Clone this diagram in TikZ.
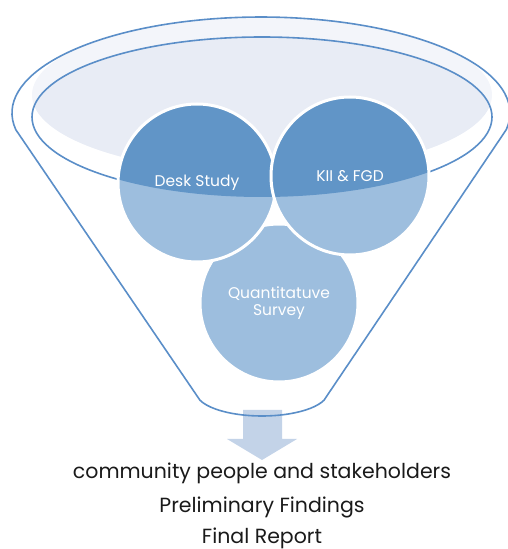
\documentclass[tikz,border=0pt]{standalone}
\usepackage{fontspec}
\setmainfont{Poppins}

\definecolor{rimline}{HTML}{5A8EC8}
\definecolor{bandfill}{HTML}{F3F5FA}
\definecolor{discfill}{HTML}{E8ECF5}
\definecolor{deepblue}{HTML}{6195C7}
\definecolor{paleblue}{HTML}{9DBEDE}
\definecolor{arrowfill}{HTML}{C3D3E8}
\definecolor{inktext}{HTML}{1A1A1A}

\tikzset{
	funnel/.style={draw=rimline, line width=1.6pt},
	bubble/.style={circle, fill=paleblue, draw=white, line width=3pt,
		minimum size=158pt, inner sep=0pt, text=white, align=center,
		font=\fontsize{15.5}{17}\selectfont,
		path picture={\fill[deepblue] (rim) ellipse [x radius=230, y radius=80];}},
	caption/.style={text=inktext, font=\fontsize{20.5}{24}\selectfont}
}

\begin{document}
\begin{tikzpicture}[x=1pt, y=1pt]
			%%%%% START %%%%%
			\useasboundingbox (0,0) rectangle (507,549);
			
			% rim of the funnel, light band and disc
			\coordinate (rim) at (262,432);
			\fill[bandfill] (262,454) ellipse [x radius=230, y radius=78];
			\begin{scope}
				\clip (rim) ellipse [x radius=230, y radius=80];
				\fill[discfill] (262,454) ellipse [x radius=230, y radius=78];
			\end{scope}
			
			% arrow under the spout
			\fill[arrowfill] (243,139) -- (282,139) -- (282,110) -- (297,110) -- (262,89) -- (227,110) -- (243,110) -- cycle;
			
			% funnel outline
			\draw[funnel] (rim) ellipse [x radius=230, y radius=80];
			\draw[funnel] (15.8,419.3) arc [start angle=190, end angle=-10, x radius=249, y radius=96]
				-- (324,148.8) arc [start angle=340, end angle=200, x radius=66, y radius=24] -- cycle;
			
			% the three inputs
			\node[bubble] (survey) at (279,246) {Quantitatuve\\Survey};
			\node[bubble] (desk) at (197,366) {Desk Study};
			\node[bubble] (kii) at (350,373) {KII \& FGD};
			
			% outputs
			\node[caption] (community) at (262,76) {community people and stakeholders};
			\node[caption] (findings) at (262,42) {Preliminary Findings};
			\node[caption] (report) at (262,11) {Final Report};
			
			%%%%% END %%%%%
\end{tikzpicture}
\end{document}
